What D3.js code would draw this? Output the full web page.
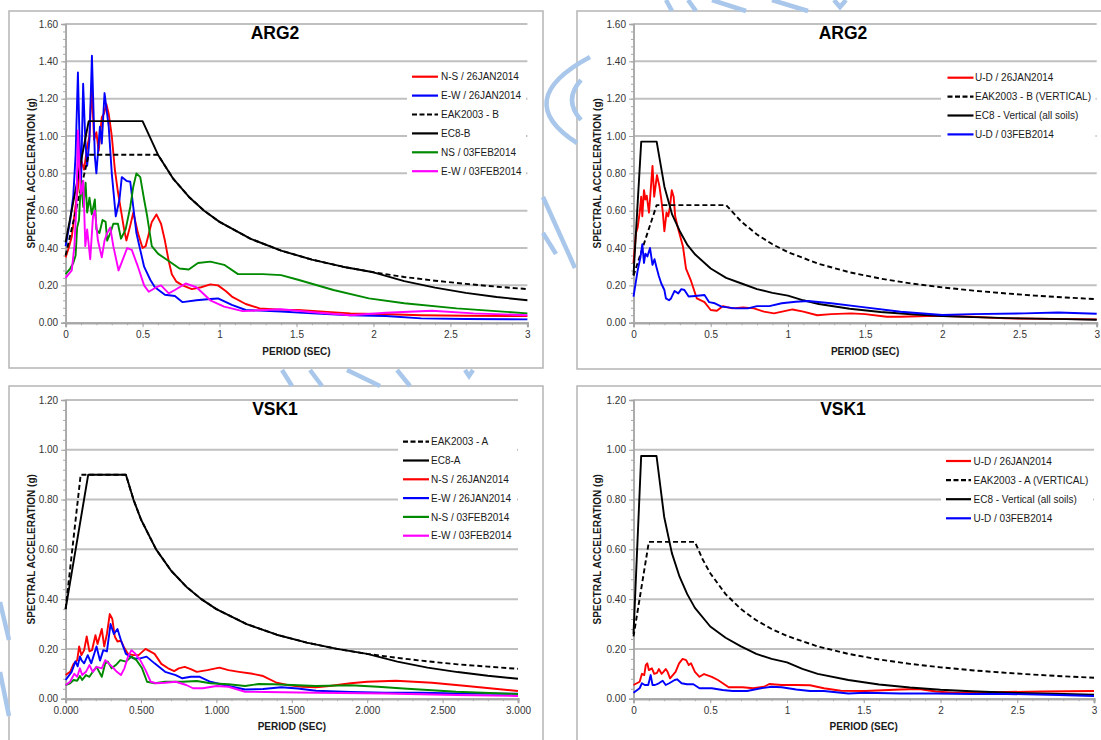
<!DOCTYPE html>
<html>
<head>
<meta charset="utf-8">
<script src="https://cdn.jsdelivr.net/npm/d3@7"></script>
<style>
  html, body { margin: 0; padding: 0; background: #fff; }
  svg { display: block; }
  text { font-family: "Liberation Sans", Arial, Helvetica, sans-serif; }
</style>
</head>
<body>
<svg id="chart" width="1101" height="740"></svg>
<script>
// ---------------- DATA (period sec, spectral acceleration g) ----------------
// Panel 1: ARG2 horizontal
const arg2H_NS26 = [[0,0.35],[0.02,0.40],[0.04,0.46],[0.064,0.62],[0.08,0.72],[0.093,0.90],[0.105,0.86],[0.12,0.82],[0.14,0.94],[0.155,1.0],[0.17,1.27],[0.185,0.98],[0.2,1.02],[0.215,0.92],[0.235,1.10],[0.25,1.12],[0.265,1.17],[0.28,1.12],[0.3,1.0],[0.32,0.82],[0.34,0.70],[0.36,0.60],[0.38,0.50],[0.395,0.44],[0.42,0.52],[0.44,0.59],[0.47,0.48],[0.5,0.40],[0.52,0.41],[0.56,0.54],[0.59,0.58],[0.62,0.53],[0.645,0.44],[0.67,0.33],[0.69,0.26],[0.72,0.22],[0.76,0.20],[0.82,0.18],[0.88,0.19],[0.94,0.205],[0.99,0.20],[1.04,0.17],[1.08,0.14],[1.17,0.10],[1.26,0.077],[1.4,0.07],[1.51,0.068],[1.7,0.058],[1.85,0.05],[2.1,0.045],[2.31,0.04],[2.6,0.037],[3,0.035]];
const arg2H_EW26 = [[0,0.41],[0.03,0.55],[0.05,0.68],[0.065,0.9],[0.08,1.34],[0.09,1.0],[0.1,0.73],[0.114,1.28],[0.128,0.98],[0.14,0.84],[0.155,0.98],[0.171,1.43],[0.19,0.89],[0.2,0.80],[0.223,1.05],[0.235,0.96],[0.253,1.23],[0.28,1.05],[0.3,0.80],[0.326,0.57],[0.35,0.66],[0.365,0.78],[0.395,0.76],[0.42,0.755],[0.46,0.48],[0.51,0.30],[0.55,0.23],[0.58,0.19],[0.645,0.15],[0.71,0.143],[0.76,0.11],[0.85,0.12],[0.94,0.127],[0.99,0.13],[1.08,0.095],[1.17,0.068],[1.4,0.06],[1.6,0.05],[1.85,0.04],[2.08,0.036],[2.31,0.023],[2.6,0.02],[3,0.018]];
const arg2H_EAK = [[0,0.36],[0.15,0.90],[0.6,0.90],[0.7,0.77],[0.8,0.675],[0.9,0.60],[1.0,0.54],[1.2,0.45],[1.4,0.386],[1.6,0.338],[1.8,0.30],[2.0,0.27],[2.2,0.245],[2.4,0.225],[2.6,0.208],[2.8,0.193],[3.0,0.18]];
const arg2H_EC8 = [[0,0.43],[0.15,1.08],[0.5,1.08],[0.6,0.90],[0.7,0.77],[0.8,0.675],[0.9,0.60],[1.0,0.54],[1.2,0.45],[1.4,0.386],[1.6,0.338],[1.8,0.30],[2.0,0.27],[2.2,0.223],[2.4,0.188],[2.6,0.16],[2.8,0.138],[3.0,0.12]];
const arg2H_NS03 = [[0,0.26],[0.03,0.29],[0.05,0.32],[0.065,0.36],[0.075,0.51],[0.087,0.55],[0.1,0.76],[0.115,0.62],[0.13,0.75],[0.14,0.59],[0.155,0.67],[0.17,0.58],[0.19,0.66],[0.2,0.50],[0.22,0.48],[0.24,0.55],[0.26,0.54],[0.27,0.44],[0.29,0.48],[0.31,0.53],[0.34,0.53],[0.36,0.45],[0.39,0.50],[0.42,0.62],[0.44,0.73],[0.46,0.80],[0.485,0.78],[0.51,0.66],[0.53,0.57],[0.56,0.41],[0.6,0.37],[0.67,0.33],[0.74,0.29],[0.8,0.285],[0.86,0.32],[0.94,0.327],[1.03,0.31],[1.12,0.26],[1.28,0.26],[1.4,0.255],[1.51,0.23],[1.74,0.175],[1.97,0.13],[2.2,0.104],[2.54,0.077],[3,0.05]];
const arg2H_EW03 = [[0,0.24],[0.04,0.28],[0.057,0.41],[0.07,0.62],[0.08,1.03],[0.09,0.84],[0.1,0.69],[0.115,0.76],[0.128,0.41],[0.14,0.50],[0.16,0.34],[0.178,0.57],[0.19,0.60],[0.21,0.44],[0.235,0.35],[0.253,0.44],[0.27,0.48],[0.29,0.51],[0.31,0.41],[0.344,0.28],[0.37,0.335],[0.4,0.40],[0.43,0.39],[0.47,0.30],[0.51,0.20],[0.54,0.166],[0.59,0.19],[0.62,0.20],[0.67,0.157],[0.71,0.175],[0.78,0.21],[0.85,0.19],[0.94,0.12],[1.03,0.086],[1.15,0.062],[1.4,0.072],[1.63,0.055],[1.85,0.04],[2.08,0.053],[2.38,0.064],[2.65,0.05],[3,0.04]];

// Panel 2: ARG2 vertical
const arg2V_UD26 = [[0,0.32],[0.016,0.48],[0.027,0.51],[0.04,0.59],[0.05,0.675],[0.057,0.57],[0.068,0.71],[0.077,0.66],[0.086,0.68],[0.1,0.59],[0.107,0.66],[0.123,0.84],[0.134,0.675],[0.152,0.79],[0.168,0.73],[0.18,0.66],[0.19,0.59],[0.2,0.49],[0.214,0.59],[0.225,0.57],[0.236,0.62],[0.248,0.71],[0.26,0.675],[0.27,0.57],[0.29,0.50],[0.32,0.41],[0.34,0.29],[0.37,0.23],[0.41,0.13],[0.46,0.11],[0.5,0.068],[0.54,0.064],[0.58,0.089],[0.64,0.077],[0.71,0.082],[0.78,0.077],[0.845,0.059],[0.91,0.05],[1.03,0.071],[1.1,0.059],[1.19,0.04],[1.28,0.046],[1.41,0.05],[1.5,0.046],[1.64,0.032],[1.73,0.032],[1.96,0.037],[2.19,0.032],[2.41,0.023],[3,0.018]];
const arg2V_EAK = [[0,0.252],[0.15,0.63],[0.6,0.63],[0.7,0.54],[0.8,0.4725],[0.9,0.42],[1.0,0.378],[1.2,0.315],[1.4,0.27],[1.6,0.236],[1.8,0.21],[2.0,0.189],[2.2,0.172],[2.4,0.1575],[2.6,0.145],[2.8,0.135],[3.0,0.126]];
const arg2V_EC8 = [[0,0.255],[0.05,0.97],[0.15,0.97],[0.2,0.73],[0.25,0.58],[0.3,0.49],[0.35,0.415],[0.4,0.365],[0.5,0.29],[0.6,0.24],[0.7,0.21],[0.8,0.18],[0.9,0.16],[1.0,0.145],[1.1,0.12],[1.2,0.10],[1.4,0.075],[1.6,0.057],[1.8,0.045],[2.0,0.036],[2.2,0.03],[2.5,0.023],[2.8,0.019],[3.0,0.016]];
const arg2V_UD03 = [[0,0.14],[0.027,0.28],[0.045,0.35],[0.057,0.42],[0.068,0.32],[0.077,0.37],[0.09,0.355],[0.107,0.40],[0.123,0.31],[0.136,0.34],[0.148,0.30],[0.164,0.25],[0.18,0.21],[0.2,0.175],[0.21,0.13],[0.23,0.12],[0.243,0.13],[0.266,0.17],[0.29,0.157],[0.31,0.18],[0.33,0.175],[0.357,0.14],[0.4,0.143],[0.46,0.148],[0.49,0.11],[0.527,0.104],[0.57,0.086],[0.66,0.077],[0.74,0.077],[0.8,0.089],[0.88,0.089],[0.96,0.104],[1.05,0.112],[1.13,0.116],[1.28,0.104],[1.46,0.086],[1.73,0.059],[2.0,0.041],[2.19,0.046],[2.53,0.05],[2.75,0.055],[3,0.048]];

// Panel 3: VSK1 horizontal
const vsk1H_EAK = [[0,0.36],[0.1,0.90],[0.4,0.90],[0.45,0.80],[0.5,0.72],[0.6,0.60],[0.7,0.514],[0.8,0.45],[0.9,0.40],[1.0,0.36],[1.2,0.30],[1.4,0.257],[1.6,0.225],[1.8,0.20],[2.0,0.18],[2.2,0.164],[2.4,0.15],[2.6,0.138],[2.8,0.129],[3.0,0.12]];
const vsk1H_EC8 = [[0,0.36],[0.15,0.90],[0.4,0.90],[0.45,0.80],[0.5,0.72],[0.6,0.60],[0.7,0.514],[0.8,0.45],[0.9,0.40],[1.0,0.36],[1.2,0.30],[1.4,0.257],[1.6,0.225],[1.8,0.20],[2.0,0.18],[2.2,0.149],[2.4,0.125],[2.6,0.107],[2.8,0.092],[3.0,0.08]];
const vsk1H_NS26 = [[0,0.095],[0.03,0.108],[0.053,0.14],[0.077,0.155],[0.09,0.21],[0.105,0.175],[0.123,0.195],[0.14,0.25],[0.158,0.19],[0.175,0.195],[0.198,0.255],[0.212,0.22],[0.24,0.28],[0.256,0.21],[0.274,0.26],[0.293,0.34],[0.31,0.32],[0.326,0.25],[0.344,0.23],[0.367,0.233],[0.384,0.21],[0.414,0.18],[0.45,0.175],[0.484,0.175],[0.53,0.20],[0.59,0.18],[0.635,0.14],[0.68,0.122],[0.72,0.111],[0.75,0.122],[0.79,0.128],[0.83,0.119],[0.87,0.108],[0.94,0.115],[1.02,0.125],[1.08,0.115],[1.15,0.108],[1.24,0.10],[1.31,0.091],[1.4,0.064],[1.47,0.055],[1.57,0.048],[1.66,0.046],[1.75,0.051],[1.89,0.062],[2.0,0.068],[2.19,0.072],[2.43,0.064],[2.66,0.051],[3,0.031]];
const vsk1H_EW26 = [[0,0.075],[0.04,0.108],[0.065,0.15],[0.08,0.13],[0.095,0.17],[0.105,0.155],[0.123,0.142],[0.147,0.175],[0.17,0.142],[0.205,0.21],[0.228,0.153],[0.25,0.195],[0.274,0.19],[0.298,0.30],[0.32,0.26],[0.344,0.28],[0.367,0.235],[0.4,0.18],[0.45,0.162],[0.495,0.162],[0.537,0.169],[0.59,0.142],[0.66,0.108],[0.73,0.095],[0.774,0.082],[0.83,0.088],[0.89,0.088],[0.96,0.068],[1.05,0.055],[1.19,0.037],[1.31,0.039],[1.43,0.046],[1.54,0.041],[1.66,0.032],[1.89,0.027],[2.12,0.024],[2.36,0.024],[2.59,0.021],[3,0.02]];
const vsk1H_NS03 = [[0,0.055],[0.03,0.062],[0.053,0.075],[0.077,0.072],[0.095,0.091],[0.11,0.075],[0.135,0.095],[0.158,0.088],[0.18,0.108],[0.205,0.128],[0.24,0.088],[0.263,0.142],[0.28,0.149],[0.305,0.122],[0.333,0.135],[0.363,0.155],[0.4,0.149],[0.437,0.169],[0.47,0.155],[0.507,0.122],[0.54,0.068],[0.59,0.062],[0.66,0.068],[0.774,0.068],[0.87,0.071],[0.96,0.062],[1.08,0.058],[1.19,0.051],[1.28,0.059],[1.38,0.058],[1.5,0.055],[1.66,0.051],[1.89,0.054],[2.07,0.048],[2.24,0.041],[2.59,0.028],[3,0.019]];
const vsk1H_EW03 = [[0,0.055],[0.03,0.068],[0.058,0.10],[0.077,0.088],[0.095,0.122],[0.11,0.095],[0.135,0.108],[0.158,0.135],[0.18,0.108],[0.205,0.128],[0.24,0.122],[0.263,0.155],[0.286,0.142],[0.31,0.128],[0.34,0.108],[0.367,0.095],[0.39,0.122],[0.414,0.169],[0.437,0.195],[0.46,0.182],[0.495,0.155],[0.53,0.115],[0.565,0.068],[0.6,0.062],[0.66,0.064],[0.73,0.068],[0.8,0.055],[0.845,0.042],[0.91,0.042],[1.0,0.051],[1.08,0.048],[1.19,0.028],[1.33,0.027],[1.66,0.024],[2.12,0.021],[2.59,0.015],[3,0.011]];

// Panel 4: VSK1 vertical
const vsk1V_UD26 = [[0,0.055],[0.04,0.068],[0.055,0.10],[0.07,0.095],[0.08,0.135],[0.09,0.142],[0.1,0.115],[0.12,0.122],[0.135,0.10],[0.153,0.104],[0.165,0.119],[0.183,0.10],[0.195,0.108],[0.21,0.119],[0.222,0.108],[0.238,0.082],[0.256,0.095],[0.274,0.108],[0.297,0.142],[0.32,0.16],[0.343,0.155],[0.36,0.135],[0.375,0.142],[0.4,0.108],[0.43,0.088],[0.46,0.099],[0.51,0.088],[0.55,0.075],[0.62,0.046],[0.71,0.046],[0.78,0.042],[0.85,0.048],[0.885,0.059],[0.965,0.055],[1.06,0.055],[1.15,0.054],[1.24,0.042],[1.35,0.032],[1.51,0.031],[1.74,0.037],[1.86,0.039],[1.97,0.029],[2.08,0.024],[2.43,0.027],[2.66,0.029],[3,0.031]];
const vsk1V_EAK = [[0,0.25],[0.1,0.63],[0.4,0.63],[0.45,0.56],[0.5,0.504],[0.6,0.42],[0.7,0.36],[0.8,0.315],[0.9,0.28],[1.0,0.252],[1.2,0.21],[1.4,0.18],[1.6,0.1575],[1.8,0.14],[2.0,0.126],[2.2,0.1145],[2.4,0.105],[2.6,0.097],[2.8,0.09],[3.0,0.084]];
const vsk1V_EC8 = [[0,0.26],[0.05,0.975],[0.15,0.975],[0.2,0.73],[0.25,0.585],[0.3,0.49],[0.35,0.42],[0.4,0.365],[0.5,0.29],[0.6,0.245],[0.7,0.21],[0.8,0.18],[0.9,0.16],[1.0,0.146],[1.1,0.12],[1.2,0.10],[1.4,0.075],[1.6,0.057],[1.8,0.045],[2.0,0.036],[2.2,0.03],[2.5,0.023],[2.8,0.019],[3.0,0.016]];
const vsk1V_UD03 = [[0,0.024],[0.04,0.042],[0.055,0.062],[0.073,0.055],[0.096,0.055],[0.112,0.095],[0.124,0.055],[0.14,0.055],[0.165,0.062],[0.19,0.072],[0.21,0.055],[0.233,0.062],[0.268,0.075],[0.284,0.078],[0.313,0.062],[0.348,0.058],[0.39,0.058],[0.43,0.042],[0.46,0.042],[0.51,0.042],[0.58,0.035],[0.645,0.031],[0.74,0.031],[0.83,0.042],[0.9,0.048],[0.965,0.046],[1.06,0.037],[1.15,0.031],[1.24,0.031],[1.4,0.021],[1.51,0.024],[1.74,0.021],[1.97,0.021],[2.2,0.019],[2.43,0.019],[2.77,0.015],[3,0.011]];

// Tick labels / titles
const titles = ["ARG2", "ARG2", "VSK1", "VSK1"];
const xTicksA = [0, 0.5, 1, 1.5, 2, 2.5, 3];
const xTickLabelsShort = ["0", "0.5", "1", "1.5", "2", "2.5", "3"];
const xTickLabelsLong = ["0.000", "0.500", "1.000", "1.500", "2.000", "2.500", "3.000"];
const yTicksTop = [0, 0.2, 0.4, 0.6, 0.8, 1.0, 1.2, 1.4, 1.6];
const yTicksBottom = [0, 0.2, 0.4, 0.6, 0.8, 1.0, 1.2];
const yAxisTitle = "SPECTRAL ACCELERATION (g)";
const xAxisTitle = "PERIOD (SEC)";

// Series definitions per panel (name, data, colour key, dashed)
const panel1Series = [
  ["N-S / 26JAN2014", arg2H_NS26, "red", false],
  ["E-W / 26JAN2014", arg2H_EW26, "blue", false],
  ["EAK2003 - B", arg2H_EAK, "black", true],
  ["EC8-B", arg2H_EC8, "black", false],
  ["NS / 03FEB2014", arg2H_NS03, "green", false],
  ["E-W / 03FEB2014", arg2H_EW03, "magenta", false]
];
const panel2Series = [
  ["U-D / 26JAN2014", arg2V_UD26, "red", false],
  ["EAK2003 - B (VERTICAL)", arg2V_EAK, "black", true],
  ["EC8 - Vertical (all soils)", arg2V_EC8, "black", false],
  ["U-D / 03FEB2014", arg2V_UD03, "blue", false]
];
const panel3Series = [
  ["EAK2003 - A", vsk1H_EAK, "black", true],
  ["EC8-A", vsk1H_EC8, "black", false],
  ["N-S / 26JAN2014", vsk1H_NS26, "red", false],
  ["E-W / 26JAN2014", vsk1H_EW26, "blue", false],
  ["N-S / 03FEB2014", vsk1H_NS03, "green", false],
  ["E-W / 03FEB2014", vsk1H_EW03, "magenta", false]
];
const panel4Series = [
  ["U-D / 26JAN2014", vsk1V_UD26, "red", false],
  ["EAK2003 - A (VERTICAL)", vsk1V_EAK, "black", true],
  ["EC8 - Vertical (all soils)", vsk1V_EC8, "black", false],
  ["U-D / 03FEB2014", vsk1V_UD03, "blue", false]
];

// ---------------- STYLE / LAYOUT ----------------
const colors = { red: "#ff0000", blue: "#0000ff", black: "#000000", green: "#008a00", magenta: "#ff00ff" };
const GRID = "#c0c0c0", AXIS = "#a6a6a6", FRAME = "#b5b5b5";

const panels = [
  { frame: [9, 11, 534, 357], plot: [65.6, 24, 527.4, 322.7], ymax: 1.6, yTicks: yTicksTop, xLabels: xTickLabelsShort,
    titleX: 275, titleY: 39, yTitleX: 31, xTitleY: 354.5, xLabY: 338.5,
    legend: { box: [407, 65, 119, 118], lx: [412, 438], tx: 441, y0: 76.7, dy: 18.9 }, series: panel1Series, title: titles[0] },
  { frame: [577, 11, 540, 358], plot: [633.5, 24, 1096.7, 322.7], ymax: 1.6, yTicks: yTicksTop, xLabels: xTickLabelsShort,
    titleX: 843, titleY: 39, yTitleX: 597, xTitleY: 354.5, xLabY: 338.5,
    legend: { box: [941, 66, 154.5, 82], lx: [947.5, 973.5], tx: 975, y0: 77.7, dy: 18.9 }, series: panel2Series, title: titles[1] },
  { frame: [9, 386, 534, 380], plot: [65.6, 400, 518, 698.7], ymax: 1.2, yTicks: yTicksBottom, xLabels: xTickLabelsLong,
    titleX: 275, titleY: 415, yTitleX: 31, xTitleY: 730, xLabY: 714.5,
    legend: { box: [398, 431, 119, 114], lx: [403, 429], tx: 431, y0: 441.7, dy: 18.8 }, series: panel3Series, title: titles[2] },
  { frame: [577, 386, 540, 380], plot: [633.5, 400, 1094, 698.7], ymax: 1.2, yTicks: yTicksBottom, xLabels: xTickLabelsShort,
    titleX: 843, titleY: 415, yTitleX: 597, xTitleY: 730, xLabY: 714.5,
    legend: { box: [941, 452, 152, 77], lx: [946, 971], tx: 973.5, y0: 461, dy: 19.1 }, series: panel4Series, title: titles[3] }
];

// Light blue watermark strokes (background logo fragments)
const watermarkPaths = [
  "M590,57 Q510,100 577,143",
  "M581,80 Q563,100 581,120",
  "M543,197 L575,268",
  "M543,233 L556,254",
  "M666,0 L672,11", "M688,0 L696,11", "M712,0 L746,11", "M772,0 L808,11", "M834,0 L840,7 L846,0",
  "M282,370 L292,386", "M310,370 L322,386", "M347,370 L380,386", "M397,370 L410,386", "M465,370 L469,376 L473,370",
  "M0,602 L9,640", "M0,672 L9,716"
];

// ---------------- DRAW ----------------
const svg = d3.select("#chart");
svg.append("rect").attr("width", 1101).attr("height", 740).attr("fill", "#fff");

const wm = svg.append("g");
panels.forEach(p => {
  svg.append("rect")
    .attr("x", p.frame[0]).attr("y", p.frame[1]).attr("width", p.frame[2]).attr("height", p.frame[3])
    .attr("fill", "#fff").attr("stroke", FRAME).attr("stroke-width", 1.5);
});
wm.raise();
wm.selectAll("path").data(watermarkPaths).join("path")
  .attr("d", d => d).attr("fill", "none").attr("stroke", "#a9c7ea").attr("stroke-width", 4.5).attr("stroke-linecap", "butt");

panels.forEach(p => {
  const [x0, yTop, x1, y0] = p.plot;
  const x = d3.scaleLinear().domain([0, 3]).range([x0, x1]);
  const y = d3.scaleLinear().domain([0, p.ymax]).range([y0, yTop]);
  const g = svg.append("g");

  // gridlines
  g.selectAll("line.grid").data(p.yTicks.filter(v => v > 0)).join("line")
    .attr("x1", x0).attr("x2", x1).attr("y1", d => y(d)).attr("y2", d => y(d))
    .attr("stroke", GRID).attr("stroke-width", 2);

  // y axis
  const yMinor = d3.range(0, p.ymax + 1e-9, 0.04);
  const yAxisMinor = d3.axisLeft(y).tickValues(yMinor).tickSize(2.5).tickFormat("");
  const yAxisMajor = d3.axisLeft(y).tickValues(p.yTicks).tickSize(4.5).tickFormat(d3.format(".2f"));
  const gyMinor = g.append("g").attr("transform", `translate(${x0},0)`).call(yAxisMinor);
  const gy = g.append("g").attr("transform", `translate(${x0},0)`).call(yAxisMajor);
  [gyMinor, gy].forEach(a => {
    a.select(".domain").attr("stroke", AXIS).attr("stroke-width", 1.5);
    a.selectAll(".tick line").attr("stroke", AXIS).attr("stroke-width", 1);
  });
  gy.selectAll(".tick text").attr("font-size", 10).attr("fill", "#333").attr("x", -7.5)
    .attr("font-family", "Liberation Sans, Arial, sans-serif");

  // x axis
  const xMinor = d3.range(0, 3.0001, 0.1);
  const xAxisMinor = d3.axisBottom(x).tickValues(xMinor).tickSize(2.5).tickFormat("");
  const xAxisMajor = d3.axisBottom(x).tickValues(xTicksA).tickSize(4.5).tickFormat((d, i) => p.xLabels[i]);
  const gxMinor = g.append("g").attr("transform", `translate(0,${y0})`).call(xAxisMinor);
  const gx = g.append("g").attr("transform", `translate(0,${y0})`).call(xAxisMajor);
  [gxMinor, gx].forEach(a => {
    a.select(".domain").attr("stroke", AXIS).attr("stroke-width", 2);
    a.selectAll(".tick line").attr("stroke", AXIS).attr("stroke-width", 1);
  });
  gx.selectAll(".tick text").attr("font-size", 10).attr("fill", "#333")
    .attr("y", p.xLabY - y0 - 7.5).attr("dy", "0.71em")
    .attr("font-family", "Liberation Sans, Arial, sans-serif");

  // title
  g.append("text").attr("x", p.titleX).attr("y", p.titleY).attr("text-anchor", "middle")
    .attr("font-size", 17.5).attr("font-weight", "bold").attr("fill", "#000").text(p.title);

  // axis titles
  g.append("text").attr("transform", `translate(${p.yTitleX + 3.5},${(yTop + y0) / 2}) rotate(-90)`)
    .attr("text-anchor", "middle").attr("font-size", 10).attr("font-weight", "bold").attr("fill", "#1a1a1a")
    .text(yAxisTitle);
  g.append("text").attr("x", (x0 + x1) / 2).attr("y", p.xTitleY).attr("text-anchor", "middle")
    .attr("font-size", 10).attr("font-weight", "bold").attr("fill", "#1a1a1a").text(xAxisTitle);

  // series lines
  const line = d3.line().x(d => x(d[0])).y(d => y(d[1]));
  p.series.forEach(s => {
    g.append("path").datum(s[1]).attr("d", line).attr("fill", "none")
      .attr("stroke", colors[s[2]]).attr("stroke-width", 1.9)
      .attr("stroke-linejoin", "round")
      .attr("stroke-dasharray", s[3] ? "5,3" : null);
  });

  // legend
  const L = p.legend;
  g.append("rect").attr("x", L.box[0]).attr("y", L.box[1]).attr("width", L.box[2]).attr("height", L.box[3]).attr("fill", "#fff");
  p.series.forEach((s, i) => {
    const yy = L.y0 + i * L.dy;
    g.append("line").attr("x1", L.lx[0]).attr("x2", L.lx[1]).attr("y1", yy).attr("y2", yy)
      .attr("stroke", colors[s[2]]).attr("stroke-width", 2.2).attr("stroke-dasharray", s[3] ? "5,2.5" : null);
    g.append("text").attr("x", L.tx).attr("y", yy + 3.6).attr("font-size", 10).attr("fill", "#1a1a1a").text(s[0]);
  });
});
</script>
</body>
</html>
